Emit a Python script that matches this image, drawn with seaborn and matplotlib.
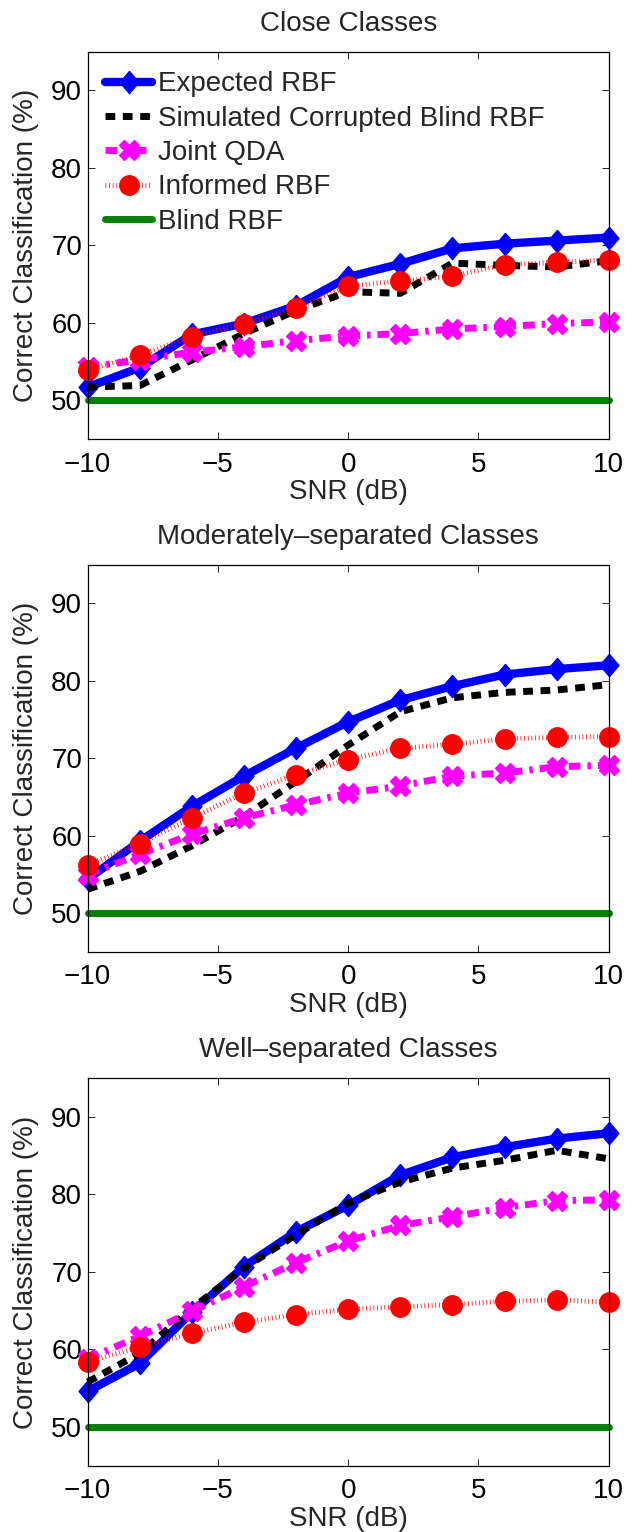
import numpy as np
import pandas as pd
import matplotlib
matplotlib.use("Agg")
import matplotlib.pyplot as plt
import seaborn as sns

# ---------------- data ----------------
snr = [-10, -8, -6, -4, -2, 0, 2, 4, 6, 8, 10]

titles = ["Close Classes", "Moderately\u2013separated Classes", "Well\u2013separated Classes"]
series_names = ["Expected RBF", "Simulated Corrupted Blind RBF", "Joint QDA",
                "Informed RBF", "Blind RBF"]

expected_close = [51.7, 54.2, 58.5, 59.9, 62.2, 65.9, 67.6, 69.6, 70.2, 70.6, 71.0]
simulated_close = [51.7, 51.9, 55.2, 58.6, 61.6, 64.0, 63.8, 67.7, 67.4, 67.2, 68.0]
qda_close = [54.3, 55.2, 56.2, 56.9, 57.7, 58.3, 58.6, 59.2, 59.5, 59.9, 60.1]
informed_close = [53.9, 55.8, 58.2, 59.9, 61.9, 64.7, 65.4, 66.0, 67.5, 67.8, 68.1]
blind_close = [50.0] * 11

expected_mod = [54.4, 59.3, 63.8, 67.7, 71.3, 74.7, 77.5, 79.3, 80.8, 81.5, 82.0]
simulated_mod = [53.1, 55.4, 58.7, 62.5, 67.0, 71.7, 76.0, 77.8, 78.5, 78.8, 79.5]
qda_mod = [55.0, 57.6, 60.2, 62.3, 64.0, 65.5, 66.4, 67.7, 68.1, 68.9, 69.1]
informed_mod = [56.2, 59.0, 62.3, 65.5, 67.9, 69.8, 71.3, 71.8, 72.5, 72.7, 72.8]
blind_mod = [50.0] * 11

expected_well = [54.6, 58.2, 64.8, 70.7, 75.2, 78.6, 82.5, 84.8, 86.1, 87.2, 87.9]
simulated_well = [55.8, 59.5, 65.3, 70.5, 74.8, 78.9, 81.6, 83.4, 84.4, 85.7, 84.6]
qda_well = [58.8, 61.7, 64.9, 68.1, 71.2, 74.0, 76.0, 77.1, 78.3, 79.2, 79.3]
informed_well = [58.4, 60.3, 62.1, 63.5, 64.5, 65.2, 65.5, 65.8, 66.2, 66.4, 66.1]
blind_well = [50.0] * 11

yticks = [50, 60, 70, 80, 90]
xticks = [-10, -5, 0, 5, 10]

panels = [
    [expected_close, simulated_close, qda_close, informed_close, blind_close],
    [expected_mod, simulated_mod, qda_mod, informed_mod, blind_mod],
    [expected_well, simulated_well, qda_well, informed_well, blind_well],
]

# ---------------- style ----------------
sns.set_style("ticks")
plt.rcParams['font.family'] = ['Liberation Sans', 'DejaVu Sans']
FS = 20

diamond = [(0, 1), (0.85, 0), (0, -1), (-0.85, 0), (0, 1)]
styles = [
    dict(color=(0, 0, 1), lw=6, linestyle='-', marker=diamond, ms=16,
         mec=(0, 0, 1), mfc=(0, 0, 1), mew=1.0),
    dict(color='black', lw=5, linestyle=(0, (1.4, 1.1)), marker=None),
    dict(color=(1, 0, 1), lw=5, linestyle=(0, (1.7, 1.0, 0.5, 1.0)), marker='X', ms=14,
         mec=(1, 0, 1), mfc=(1, 0, 1), mew=1.0),
    dict(color=(1, 0, 0), lw=3.5, linestyle=(0, (0.15, 0.6)), marker='o', ms=14,
         mec=(1, 0, 0), mfc=(1, 0, 0), mew=1.0),
    dict(color=(0, 0.5, 0), lw=5, linestyle='-', marker=None),
]

fig = plt.figure(figsize=(6.39, 15.32), dpi=100)
left = 87.7 / 639
width = 521 / 639
height = 387.5 / 1532
bottoms = [1 - 439 / 1532, 1 - 952 / 1532, 1 - 1465.7 / 1532]

for p, (title, data) in enumerate(zip(titles, panels)):
    ax = fig.add_axes([left, bottoms[p], width, height])
    for name, vals, st in zip(series_names, data, styles):
        df = pd.DataFrame({"SNR": snr, "val": vals})
        ax = sns.lineplot(data=df, x="SNR", y="val", ax=ax, errorbar=None,
                          label=name, clip_on=False, **st)
    line_handles = ax.get_lines()
    ax.set_xlim(-10, 10)
    ax.set_ylim(45, 95)
    ax.set_xticks(xticks)
    ax.set_yticks(yticks)
    ax.set_xticklabels([str(t).replace('-', '\u2212') for t in xticks])
    ax.tick_params(direction='in', length=5, width=0.6, top=True, right=True,
                   labelsize=FS, colors='black')
    ax.tick_params(axis='x', pad=9)
    ax.tick_params(axis='y', pad=4)
    for s in ax.spines.values():
        s.set_visible(True)
        s.set_linewidth(0.9)
        s.set_color('black')
    ax.set_xlabel("SNR (dB)", fontsize=FS, labelpad=1)
    ax.set_ylabel("Correct Classification (%)", fontsize=FS, labelpad=9)
    ax.set_title(title, fontsize=FS, pad=15)
    if p == 0:
        ax.legend(handles=line_handles[:5], labels=series_names, loc='upper left',
                  bbox_to_anchor=(0.033, 0.949), frameon=False, fontsize=FS,
                  handlelength=1.71, handletextpad=0.19, labelspacing=0.3,
                  borderaxespad=0, borderpad=0)
    else:
        lg = ax.get_legend()
        if lg is not None:
            lg.remove()

fig.savefig("out.png", dpi=100)
